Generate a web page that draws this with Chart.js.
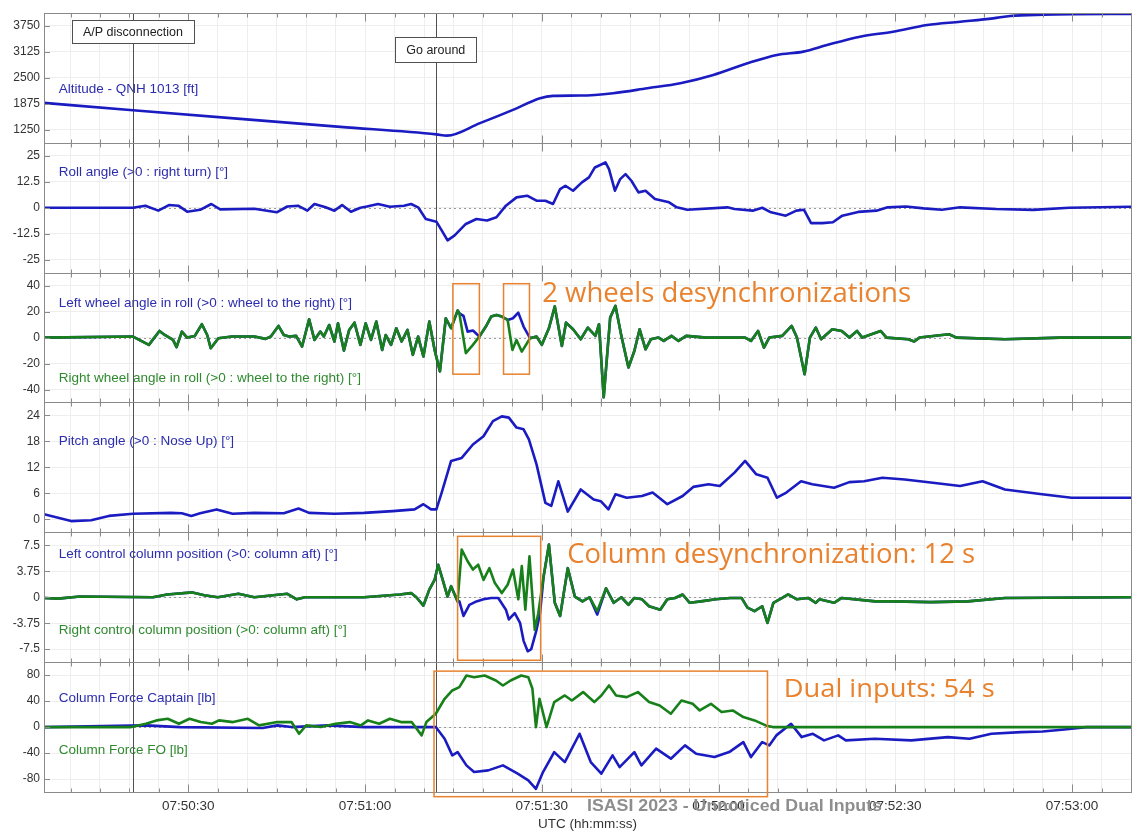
<!DOCTYPE html>
<html>
<head>
<meta charset="utf-8">
<title>Unnoticed dual inputs - flight data</title>
<script src="https://cdn.jsdelivr.net/npm/chart.js"></script>
<style>
  html, body { margin: 0; padding: 0; background: #fff; }
  #wrap { position: relative; width: 1137px; height: 835px; }
</style>
</head>
<body>
<div id="wrap"><canvas id="flightChart"></canvas></div>
<script>
// all times are seconds after 07:50:00 UTC, pairs are [time, value]
const timeTicks = [30, 60, 90, 120, 150, 180]
const timeLabels = ['07:50:30', '07:51:00', '07:51:30', '07:52:00', '07:52:30', '07:53:00']

const altTicks = [1250, 1875, 2500, 3125, 3750]
const rollTicks = [-25, -12.5, 0, 12.5, 25]
const wheelTicks = [-40, -20, 0, 20, 40]
const pitchTicks = [0, 6, 12, 18, 24]
const columnTicks = [-7.5, -3.75, 0, 3.75, 7.5]
const forceTicks = [-80, -40, 0, 40, 80]

const altitude = [[5.5, 1899], [20.6, 1723], [38.8, 1514], [55.8, 1322], [72.1, 1142], [73.9, 1110],
    [79.5, 1411], [85.1, 1731], [89.7, 2012], [91.9, 2067], [96.5, 2075], [102.1, 2132], [107.9, 2252],
    [113.5, 2372], [119.1, 2572], [124.9, 2853], [129.9, 3053], [134.4, 3133], [138.4, 3293], [144.0, 3493],
    [149.6, 3613], [155.4, 3774], [161.0, 3853], [166.6, 3934], [169.5, 3990], [175.1, 4022], [180, 4033], [190, 4038]]

const rollAngle = [[5.5, 0], [20.6, 0], [22.7, 1], [24.9, -1.4], [26.7, 1.3], [28.3, 1], [29.8, -1.9], [32.0, -1],
    [33.9, 1.8], [35.4, -0.8], [41.2, -0.5], [45.0, -2.2], [46.8, 0.6], [48.6, 1], [50.2, -1.4], [51.4, 1.8],
    [53.3, 0.2], [54.8, -1.4], [56.1, 1.3], [57.6, -1.9], [59.2, 0], [60.3, 0.6], [62.2, 1.8], [64.2, 0.5],
    [66.6, 1], [67.8, 1.8], [69.0, 0.2], [70.3, -5.4], [72.1, -6.7], [73.0, -10.9], [74.0, -15.7], [75.2, -13.3],
    [77.1, -7.8], [78.9, -5.4], [80.7, -6.1], [82.3, -4.6], [83.9, 1], [85.7, 5], [87.5, 5.8], [89.1, 3.4],
    [90.6, 3.4], [91.9, 1.8], [93.1, 9], [94.0, 10.6], [95.3, 8.2], [96.8, 12.2], [98.0, 14.6], [99.0, 19.4],
    [100.8, 21.8], [101.4, 18.6], [102.4, 8.2], [103.3, 13.8], [104.2, 16.2], [105.2, 13], [106.4, 7.4],
    [107.6, 8.2], [109.2, 4.2], [111.6, 2.6], [112.9, 0.2], [114.7, -1], [121.5, 0.2], [122.7, -0.6],
    [125.8, -1.4], [127.4, 0], [128.9, -2.2], [131.4, -3.8], [133.2, -1.4], [134.5, -1], [135.7, -7.4],
    [137.6, -7.4], [139.4, -7], [141.0, -3.8], [143.7, -2], [146.8, -1.4], [148.7, 0.2], [151.8, 0.6],
    [154.8, -0.3], [157.9, -1], [161.0, 0.2], [167.1, -0.6], [173.4, -1], [179.5, 0], [190, 0.5]]

const rightWheel = [[5.5, 0], [20.6, 0.8], [23.3, -5.6], [25.1, 5.1], [26.0, 2], [27.4, -1.8], [28.0, -7.4],
    [28.9, 4.6], [29.8, 0], [31.1, 1.3], [32.3, 10.3], [33.2, 2], [33.8, -8.2], [35.1, -0.5], [37.4, 0.8],
    [41.2, 0.8], [43.1, -1], [44.0, 0.8], [45.3, 9], [46.2, 2], [47.1, 0.8], [48.3, 1.3], [49.3, -6.9],
    [50.5, 14.1], [51.4, -1.8], [52.4, 4.6], [53.0, 0.8], [53.9, 9.7], [54.8, -3], [55.4, 11], [56.4, -10],
    [57.3, 5.9], [58.2, 11.5], [59.2, -5.6], [60.1, 11], [61.0, -1.8], [61.9, 12.3], [62.9, -9.5], [63.5, 2],
    [64.4, -5.6], [65.3, 7.2], [66.2, -3], [67.2, 5.9], [68.1, -13.3], [69.0, 0.8], [69.9, -14.6], [70.9, 12.3],
    [71.8, -9.5], [72.7, -26], [73.7, 14.9], [74.6, 7.2], [75.7, 20.8], [76.0, 18.7], [77.1, -12], [78.3, -5.6],
    [79.4, 0.8], [80.5, 8.5], [81.4, 16.2], [82.3, 17.4], [83.2, 16.2], [84.2, 13.6], [85.0, -9.5], [85.7, -1.8],
    [86.6, -10.8], [88.0, -0.5], [89.1, 0.8], [90.0, -5.6], [91.2, 7.2], [92.2, 24], [93.4, -6.5], [94.1, 11.5],
    [95.3, 6.4], [96.6, -1.3], [97.8, 7.7], [99.1, 1.3], [99.7, 10.3], [100.5, -46], [101.6, 15.4], [102.5, 24.4],
    [103.5, 1.3], [104.7, -23], [105.7, -10.3], [106.6, 6.4], [107.6, -9], [108.5, -1.3], [109.8, 0], [110.7, -2.6],
    [112.0, 1.3], [113.2, -2.6], [114.5, 1.3], [117.9, 0], [124.5, 0], [125.5, -2.6], [126.7, 5.1], [127.7, -7.7],
    [128.6, 0], [130.8, 1.3], [132.4, 9], [133.3, 0], [134.6, -28.2], [135.5, 0], [136.5, 7.7], [137.4, -1.3],
    [139.3, 6.4], [140.9, 5.1], [142.2, 0], [143.5, 5.1], [144.4, 0], [147.5, 5.1], [148.5, 0], [152.2, -1.3],
    [153.2, -3], [154.1, 0], [159.1, 2.6], [160.4, 0], [168.6, -1.3], [178.0, 0], [190, 0]]

const leftWheel = [[5.5, 0], [20.6, 0.8], [23.3, -5.6], [25.1, 5.1], [26.0, 2], [27.4, -1.8], [28.0, -7.4],
    [28.9, 4.6], [29.8, 0], [31.1, 1.3], [32.3, 10.3], [33.2, 2], [33.8, -8.2], [35.1, -0.5], [37.4, 0.8],
    [41.2, 0.8], [43.1, -1], [44.0, 0.8], [45.3, 9], [46.2, 2], [47.1, 0.8], [48.3, 1.3], [49.3, -6.9],
    [50.5, 14.1], [51.4, -1.8], [52.4, 4.6], [53.0, 0.8], [53.9, 9.7], [54.8, -3], [55.4, 11], [56.4, -10],
    [57.3, 5.9], [58.2, 11.5], [59.2, -5.6], [60.1, 11], [61.0, -1.8], [61.9, 12.3], [62.9, -9.5], [63.5, 2],
    [64.4, -5.6], [65.3, 7.2], [66.2, -3], [67.2, 5.9], [68.1, -13.3], [69.0, 0.8], [69.9, -14.6], [70.9, 12.3],
    [71.8, -9.5], [72.7, -26], [73.7, 14.9], [74.6, 7.2], [75.7, 20.8], [76.0, 18.7], [76.7, 16.7], [77.4, 4.6],
    [78.3, 5.4], [79.4, 0.8], [80.5, 8.5], [81.4, 16.2], [82.3, 17.4], [83.2, 16.2], [84.2, 13.6], [85.1, 14.9],
    [86.0, 19.2], [86.9, 8.5], [88.0, -0.5], [89.1, 0.8], [90.0, -5.6], [91.2, 7.2], [92.2, 24], [93.4, -6.5],
    [94.1, 11.5], [95.3, 6.4], [96.6, -1.3], [97.8, 7.7], [99.1, 1.3], [99.7, 10.3], [100.5, -46], [101.6, 15.4],
    [102.5, 24.4], [103.5, 1.3], [104.7, -23], [105.7, -10.3], [106.6, 6.4], [107.6, -9], [108.5, -1.3],
    [109.8, 0], [110.7, -2.6], [112.0, 1.3], [113.2, -2.6], [114.5, 1.3], [117.9, 0], [124.5, 0], [125.5, -2.6],
    [126.7, 5.1], [127.7, -7.7], [128.6, 0], [130.8, 1.3], [132.4, 9], [133.3, 0], [134.6, -28.2], [135.5, 0],
    [136.5, 7.7], [137.4, -1.3], [139.3, 6.4], [140.9, 5.1], [142.2, 0], [143.5, 5.1], [144.4, 0], [147.5, 5.1],
    [148.5, 0], [152.2, -1.3], [153.2, -3], [154.1, 0], [159.1, 2.6], [160.4, 0], [168.6, -1.3], [178.0, 0], [190, 0]]

const pitchAngle = [[5.5, 1.2], [10.1, -0.4], [13.5, -0.2], [16.5, 0.8], [20.6, 1.3], [27.0, 1.5], [28.9, 1.4],
    [30.5, 0.8], [32.0, 1.4], [34.8, 2.3], [37.5, 1.3], [41.2, 1.5], [46.2, 1.4], [48.7, 2.5], [50.5, 1.5],
    [54.8, 1.3], [59.8, 1.5], [64.7, 1.9], [68.4, 2.3], [69.9, 3.5], [71.2, 2.3], [72.1, 2.3], [73.0, 6.2],
    [74.6, 13.5], [76.4, 14.2], [78.3, 17.3], [80.1, 19.2], [81.7, 22.7], [83.2, 23.8], [84.4, 23.5],
    [85.7, 21.2], [86.9, 20.8], [87.8, 18.5], [89.1, 12.7], [90.6, 3.8], [91.6, 3.1], [92.8, 8.8], [94.4, 1.8],
    [96.6, 6.9], [98.8, 4.6], [100.0, 4.2], [101.3, 2.3], [102.5, 5.8], [104.4, 5], [107.0, 5.4], [108.8, 6.2],
    [111.3, 3.5], [113.9, 5.4], [115.7, 7.5], [118.3, 8.1], [120.2, 7.7], [122.7, 10.8], [124.5, 13.5],
    [126.4, 10.4], [128.3, 9.6], [129.9, 5], [131.5, 6.2], [134.0, 8.8], [135.9, 8.1], [139.6, 7.3], [142.2, 8.6],
    [144.7, 8.8], [147.8, 9.6], [151.6, 9.2], [156.0, 8.5], [161.0, 7.7], [164.8, 8.8], [168.6, 6.9],
    [174.9, 5.8], [179.9, 5], [190, 5]]

const rightColumn = [[5.5, -0.1], [7.9, -0.2], [11.6, 0.1], [24.0, 0], [26.4, 0.4], [30.7, 0.7], [32.7, 0.3],
    [35.0, 0], [38.5, 0.5], [41.2, 0], [46.8, 0.5], [48.4, -0.3], [49.8, 0], [59.8, 0], [65.9, 0.4], [67.8, 0.6],
    [68.7, 0], [69.9, -1.2], [70.9, 1.1], [71.8, 2.5], [72.4, 4.7], [73.0, 3], [74.0, 0.1], [74.6, 1.6],
    [75.2, 0.4], [75.7, -0.6], [76.4, 6.9], [77.4, 5.2], [78.3, 4], [79.2, 4.7], [80.1, 2.5], [81.1, 4.2],
    [82.0, 2.1], [83.2, 0.6], [84.2, 1.8], [85.1, 4], [86.0, -0.3], [86.6, 4.5], [87.2, -1.8], [87.9, 5.9],
    [88.8, -4.7], [89.4, -2.3], [90.3, 3], [91.2, 7.6], [92.2, -0.8], [93.1, -2.7], [94.4, 4.2], [95.6, 0.1],
    [96.9, -0.6], [98.1, 0], [99.4, -2], [100.9, 1.3], [102.2, -0.8], [103.5, 0], [104.7, -1.1], [105.7, -0.1],
    [107.0, -0.3], [108.2, -1.3], [110.1, -1.8], [111.3, -0.3], [112.6, -0.1], [113.9, 0.4], [115.1, -0.8],
    [117.0, -0.6], [119.5, -0.3], [122.0, -0.1], [123.9, -0.1], [124.9, -1.5], [126.1, -2], [127.4, -1.3],
    [128.3, -3.7], [129.3, -0.8], [130.8, -0.1], [131.8, 0.4], [133.3, -0.3], [135.2, -0.1], [136.5, -0.8],
    [137.1, -0.3], [139.6, -0.8], [140.9, -0.1], [146.6, -0.6], [149.7, -0.6], [156.0, -0.7], [162.3, -0.6],
    [168.6, -0.1], [190, 0]]

const leftColumn = [[5.5, -0.1], [7.9, -0.2], [11.6, 0.1], [24.0, 0], [26.4, 0.4], [30.7, 0.7], [32.7, 0.3],
    [35.0, 0], [38.5, 0.5], [41.2, 0], [46.8, 0.5], [48.4, -0.3], [49.8, 0], [59.8, 0], [65.9, 0.4], [67.8, 0.6],
    [68.7, 0], [69.9, -1.2], [70.9, 1.1], [71.8, 2.5], [72.4, 4.7], [73.0, 3], [74.0, 0.1], [74.6, 1.6],
    [75.2, 0.4], [75.7, -0.6], [76.0, -0.6], [76.7, -2.7], [77.7, -1.1], [78.9, -0.6], [80.1, -0.3], [81.4, -0.1],
    [82.6, -0.1], [83.9, -1.8], [84.4, -3.2], [85.4, -2.3], [86.3, -3.7], [86.9, -6.3], [87.6, -7.8], [88.2, -7.5],
    [89.1, -4.7], [89.7, -2.3], [90.3, 3], [91.2, 7.6], [92.2, -0.8], [93.1, -2.7], [94.4, 4.2], [95.6, 0.1],
    [96.9, -0.6], [98.1, 0], [99.4, -2.5], [100.9, 1.3], [102.2, -0.8], [103.5, 0], [104.7, -1.1], [105.7, -0.1],
    [107.0, -0.3], [108.2, -1.3], [110.1, -1.8], [111.3, -0.3], [112.6, -0.1], [113.9, 0.4], [115.1, -0.8],
    [117.0, -0.6], [119.5, -0.3], [122.0, -0.1], [123.9, -0.1], [124.9, -1.5], [126.1, -2], [127.4, -1.3],
    [128.3, -3.7], [129.3, -0.8], [130.8, -0.1], [131.8, 0.4], [133.3, -0.3], [135.2, -0.1], [136.5, -0.8],
    [137.1, -0.3], [139.6, -0.8], [140.9, -0.1], [146.6, -0.6], [149.7, -0.6], [156.0, -0.7], [162.3, -0.6],
    [168.6, -0.1], [190, 0]]

const forceCaptain = [[5.5, 0], [22.8, 2.6], [28.6, 0], [42.6, -1.5], [45.1, 2.6], [47.5, 0], [53.7, 2.6],
    [59.9, 0], [71.0, 0], [72.0, 0], [73.5, -18], [74.8, -43.6], [75.7, -38.5], [77.2, -59], [78.5, -69.3],
    [80.9, -66.7], [83.4, -59], [85.9, -71.8], [87.7, -82], [89.0, -95], [90.2, -69.3], [92.1, -38.5],
    [93.9, -53.9], [96.4, -10.3], [98.3, -53.9], [100.1, -71.8], [102.0, -43.6], [103.2, -61.6], [105.7, -38.5],
    [106.9, -59], [109.4, -33.3], [111.9, -48.7], [114.3, -28.2], [116.2, -41], [119.3, -46.2], [121.8, -38.5],
    [124.2, -23.1], [125.5, -46.2], [127.4, -23.1], [128.6, -28.2], [129.8, -12.8], [132.3, 5.1], [134.1, -15.4],
    [136.0, -10.3], [137.9, -20.5], [140.3, -12.8], [141.6, -20.5], [146.5, -18], [152.7, -20.5], [158.9, -15.4],
    [162.6, -18], [166.3, -10.3], [171.3, -7.7], [175.0, -6.7], [178.7, -3.6], [182.4, 0], [190, 0]]

const forceFO = [[5.5, 0], [20.3, 0], [22.8, 5.1], [24.6, 10.3], [26.5, 12.8], [28.4, 5.1], [30.2, 12.8],
    [32.1, 7.7], [34.0, 5.1], [35.2, 10.3], [37.6, 7.7], [40.1, 12.8], [42.0, 2.6], [45.1, 7.7], [47.5, 7.7],
    [48.8, -10.3], [50.0, 2.6], [52.5, 0], [55.0, 5.1], [57.4, 7.7], [59.3, 2.6], [60.5, 10.3], [62.4, 5.1],
    [64.2, 12.8], [66.1, 7.7], [67.9, 7.7], [69.6, -12.8], [70.4, 7.7], [72.0, 20.5], [73.5, 43.6], [74.8, 56.4],
    [76.0, 61.6], [77.2, 79.5], [78.5, 76.9], [80.3, 79.5], [82.2, 71.8], [83.4, 64.1], [84.7, 71.8],
    [86.5, 79.5], [87.7, 76.9], [88.4, 59], [89.0, 0], [89.6, 43.6], [90.8, 0], [92.1, 38.5], [93.9, 48.7],
    [95.1, 41], [97.0, 53.9], [98.9, 38.5], [100.1, 48.7], [101.4, 64.1], [102.6, 48.7], [104.4, 46.2],
    [106.3, 53.9], [108.2, 38.5], [110.0, 33.3], [111.9, 20.5], [113.7, 41], [115.6, 35.9], [116.8, 25.6],
    [118.7, 35.9], [120.5, 23.1], [122.4, 25.6], [124.2, 15.4], [126.1, 10.3], [128.0, 2.6], [129.2, 0], [190, 0]]

const BLUE = '#1b1bc2'
const GREEN = '#18801a'
const ORANGE = '#e8822e'
const FRAME = '#8a8a8a'
const GRID = '#eeeeee'

// event markers, label box edges are in altitude units
const events = [
    {time: 20.6, text: 'A/P disconnection', boxTop: 3894, boxBottom: 3341},
    {time: 72.0, text: 'Go around', boxTop: 3485, boxBottom: 2885}
]

const seriesLabels = [
    {axis: 'alt', value: 2228, text: 'Altitude - QNH 1013 [ft]', color: '#2c2cae'},
    {axis: 'roll', value: 17.1, text: 'Roll angle (>0 : right turn) [°]', color: '#2c2cae'},
    {axis: 'wheel', value: 26.2, text: 'Left wheel angle in roll (>0 : wheel to the right) [°]', color: '#2c2cae'},
    {axis: 'wheel', value: -31.5, text: 'Right wheel angle in roll (>0 : wheel to the right) [°]', color: '#2f8a2f'},
    {axis: 'pitch', value: 18.1, text: 'Pitch angle (>0 : Nose Up) [°]', color: '#2c2cae'},
    {axis: 'column', value: 6.2, text: 'Left control column position (>0: column aft) [°]', color: '#2c2cae'},
    {axis: 'column', value: -4.7, text: 'Right control column position (>0: column aft) [°]', color: '#2f8a2f'},
    {axis: 'force', value: 44.2, text: 'Column Force Captain [lb]', color: '#2c2cae'},
    {axis: 'force', value: -35.4, text: 'Column Force FO [lb]', color: '#2f8a2f'}
]

const highlightBoxes = [
    {axis: 'wheel', from: 74.9, to: 79.4, top: 41.5, bottom: -28.2},
    {axis: 'wheel', from: 83.5, to: 87.9, top: 41.5, bottom: -28.2},
    {axis: 'column', from: 75.7, to: 89.8, top: 8.8, bottom: -9.1},
    {axis: 'force', from: 71.7, to: 128.3, top: 86.2, bottom: -107.2}
]

const highlightNotes = [
    {axis: 'wheel', time: 90.05, value: 27.4, text: '2 wheels desynchronizations', width: 369, size: 27},
    {axis: 'column', time: 94.3, value: 4.96, text: 'Column desynchronization: 12 s', width: 408, size: 28},
    {axis: 'force', time: 131.05, value: 46.6, text: 'Dual inputs: 54 s', width: 211, size: 25}
]

const panels = ['alt', 'roll', 'wheel', 'pitch', 'column', 'force']
const zeroLinePanels = ['roll', 'wheel', 'column', 'force']
const labelTime = 8.0

const minorTicks = []
for (let t = 10; t <= 190; t += 5) minorTicks.push(t)

function pts(pairs) {
    return pairs.map(p => ({x: p[0], y: p[1]}))
}

function seg(ctx, x1, y1, x2, y2) {
    ctx.beginPath()
    ctx.moveTo(x1, y1)
    ctx.lineTo(x2, y2)
    ctx.stroke()
}

function fitText(ctx, text, x, y, width) {
    const w = ctx.measureText(text).width
    ctx.save()
    ctx.translate(x, y)
    ctx.scale(width / w, 1)
    ctx.fillText(text, 0, 0)
    ctx.restore()
}

const overlay = {
    id: 'overlay',
    beforeDatasetsDraw(chart) {
        const {ctx, chartArea: a, scales} = chart
        const x = scales.x
        ctx.save()
        ctx.lineWidth = 1
        ctx.strokeStyle = '#9a9a9a'
        ctx.setLineDash([2, 3])
        zeroLinePanels.forEach(id => {
            const y = Math.round(scales[id].getPixelForValue(0)) + 0.5
            seg(ctx, a.left, y, a.right, y)
        })
        ctx.setLineDash([])

        ctx.font = "13.5px 'Liberation Sans', Arial, sans-serif"
        ctx.textBaseline = 'middle'
        seriesLabels.forEach(l => {
            ctx.fillStyle = l.color
            ctx.fillText(l.text, x.getPixelForValue(labelTime), scales[l.axis].getPixelForValue(l.value))
        })

        ctx.strokeStyle = '#505050'
        events.forEach(ev => {
            const px = Math.round(x.getPixelForValue(ev.time)) + 0.5
            seg(ctx, px, a.top, px, a.bottom)
        })
        ctx.restore()
    },
    afterDatasetsDraw(chart) {
        const {ctx, chartArea: a, scales} = chart
        const x = scales.x
        ctx.save()
        ctx.lineWidth = 1
        ctx.strokeStyle = FRAME
        panels.forEach(id => {
            const s = scales[id]
            const top = Math.round(s.top) + 0.5
            const bottom = Math.round(s.bottom) + 0.5
            ctx.strokeRect(Math.round(a.left) + 0.5, top, Math.round(a.right - a.left), bottom - top)
            minorTicks.forEach(t => {
                const px = Math.round(x.getPixelForValue(t)) + 0.5
                const len = timeTicks.includes(t) ? 8 : 4
                seg(ctx, px, top, px, top + len)
                seg(ctx, px, bottom, px, bottom - len)
            })
            s.ticks.forEach(tk => {
                const py = Math.round(s.getPixelForValue(tk.value)) + 0.5
                seg(ctx, a.left, py, a.left + 6, py)
            })
        })

        // event label boxes
        ctx.font = "12.5px 'Liberation Sans', Arial, sans-serif"
        ctx.textAlign = 'center'
        ctx.textBaseline = 'middle'
        events.forEach(ev => {
            const cx = x.getPixelForValue(ev.time)
            const y1 = Math.round(scales.alt.getPixelForValue(ev.boxTop)) + 0.5
            const y2 = Math.round(scales.alt.getPixelForValue(ev.boxBottom)) + 0.5
            const w = Math.round(ctx.measureText(ev.text).width + 22)
            const x1 = Math.round(cx - w / 2) + 0.5
            ctx.fillStyle = '#fff'
            ctx.fillRect(x1, y1, w, y2 - y1)
            ctx.strokeStyle = '#505050'
            ctx.strokeRect(x1, y1, w, y2 - y1)
            ctx.fillStyle = '#222'
            ctx.fillText(ev.text, cx, (y1 + y2) / 2 + 1)
        })

        // orange highlights
        ctx.strokeStyle = ORANGE
        ctx.lineWidth = 1.5
        highlightBoxes.forEach(b => {
            const s = scales[b.axis]
            const x1 = x.getPixelForValue(b.from), x2 = x.getPixelForValue(b.to)
            const y1 = s.getPixelForValue(b.top), y2 = s.getPixelForValue(b.bottom)
            ctx.strokeRect(x1, y1, x2 - x1, y2 - y1)
        })
        ctx.fillStyle = ORANGE
        ctx.textAlign = 'left'
        ctx.textBaseline = 'alphabetic'
        highlightNotes.forEach(n => {
            ctx.font = n.size + "px 'Open Sans', 'Noto Sans', sans-serif"
            fitText(ctx, n.text, x.getPixelForValue(n.time), scales[n.axis].getPixelForValue(n.value), n.width)
        })
        ctx.restore()
    },
    afterDraw(chart) {
        const ctx = chart.ctx
        ctx.save()
        ctx.fillStyle = '#8e8e8e'
        ctx.font = "bold 17px 'Liberation Sans Narrow', 'Liberation Sans', Arial, sans-serif"
        ctx.textBaseline = 'alphabetic'
        fitText(ctx, 'ISASI 2023 - Unnoticed Dual Inputs', 587, 811, 295)
        ctx.restore()
    }
}

function panelAxis(ticks, min, max, weight) {
    return {
        type: 'linear',
        position: 'left',
        stack: 'panels',
        stackWeight: 1,
        weight: weight,
        min: min,
        max: max,
        afterBuildTicks: s => { s.ticks = ticks.map(v => ({value: v})) },
        afterFit: s => { s.width = 44 },
        grid: {color: GRID, drawTicks: false},
        border: {display: false},
        ticks: {
            autoSkip: false,
            padding: 4,
            color: '#333',
            font: {size: 12},
            callback: v => String(v)
        }
    }
}

Chart.defaults.font.family = "'Liberation Sans', Arial, sans-serif"

new Chart(document.getElementById('flightChart'), {
    type: 'line',
    data: {
        datasets: [
            {label: 'Altitude', data: pts(altitude), yAxisID: 'alt', borderColor: BLUE, cubicInterpolationMode: 'monotone'},
            {label: 'Roll angle', data: pts(rollAngle), yAxisID: 'roll', borderColor: BLUE},
            {label: 'Right wheel', data: pts(rightWheel), yAxisID: 'wheel', borderColor: GREEN},
            {label: 'Left wheel', data: pts(leftWheel), yAxisID: 'wheel', borderColor: BLUE},
            {label: 'Pitch angle', data: pts(pitchAngle), yAxisID: 'pitch', borderColor: BLUE},
            {label: 'Right column', data: pts(rightColumn), yAxisID: 'column', borderColor: GREEN},
            {label: 'Left column', data: pts(leftColumn), yAxisID: 'column', borderColor: BLUE},
            {label: 'Column force FO', data: pts(forceFO), yAxisID: 'force', borderColor: GREEN},
            {label: 'Column force Captain', data: pts(forceCaptain), yAxisID: 'force', borderColor: BLUE}
        ]
    },
    options: {
        responsive: true,
        maintainAspectRatio: false,
        animation: false,
        layout: {padding: {top: 13, right: 6, bottom: 0, left: 0}},
        elements: {
            point: {radius: 0},
            line: {borderWidth: 2.6, tension: 0, borderJoinStyle: 'round'}
        },
        plugins: {
            legend: {display: false},
            tooltip: {enabled: false}
        },
        scales: {
            x: {
                type: 'linear',
                position: 'bottom',
                min: 5.5,
                max: 190,
                afterBuildTicks: s => { s.ticks = minorTicks.map(v => ({value: v})) },
                afterFit: s => { s.height = 43 },
                grid: {color: GRID, drawTicks: false},
                border: {display: false},
                ticks: {
                    autoSkip: false,
                    maxRotation: 0,
                    padding: 6,
                    color: '#333',
                    font: {size: 13.5},
                    callback: v => {
                        const i = timeTicks.indexOf(v)
                        return i >= 0 ? timeLabels[i] : ''
                    }
                },
                title: {
                    display: true,
                    text: 'UTC (hh:mm:ss)',
                    color: '#333',
                    font: {size: 13.5},
                    padding: {top: 0, bottom: 3}
                }
            },
            alt: panelAxis(altTicks, 937.5, 4062.5, 6),
            roll: panelAxis(rollTicks, -31.25, 31.25, 5),
            wheel: panelAxis(wheelTicks, -50, 50, 4),
            pitch: panelAxis(pitchTicks, -3, 27, 3),
            column: panelAxis(columnTicks, -9.375, 9.375, 2),
            force: panelAxis(forceTicks, -100, 100, 1)
        }
    },
    plugins: [overlay]
})
</script>
</body>
</html>
